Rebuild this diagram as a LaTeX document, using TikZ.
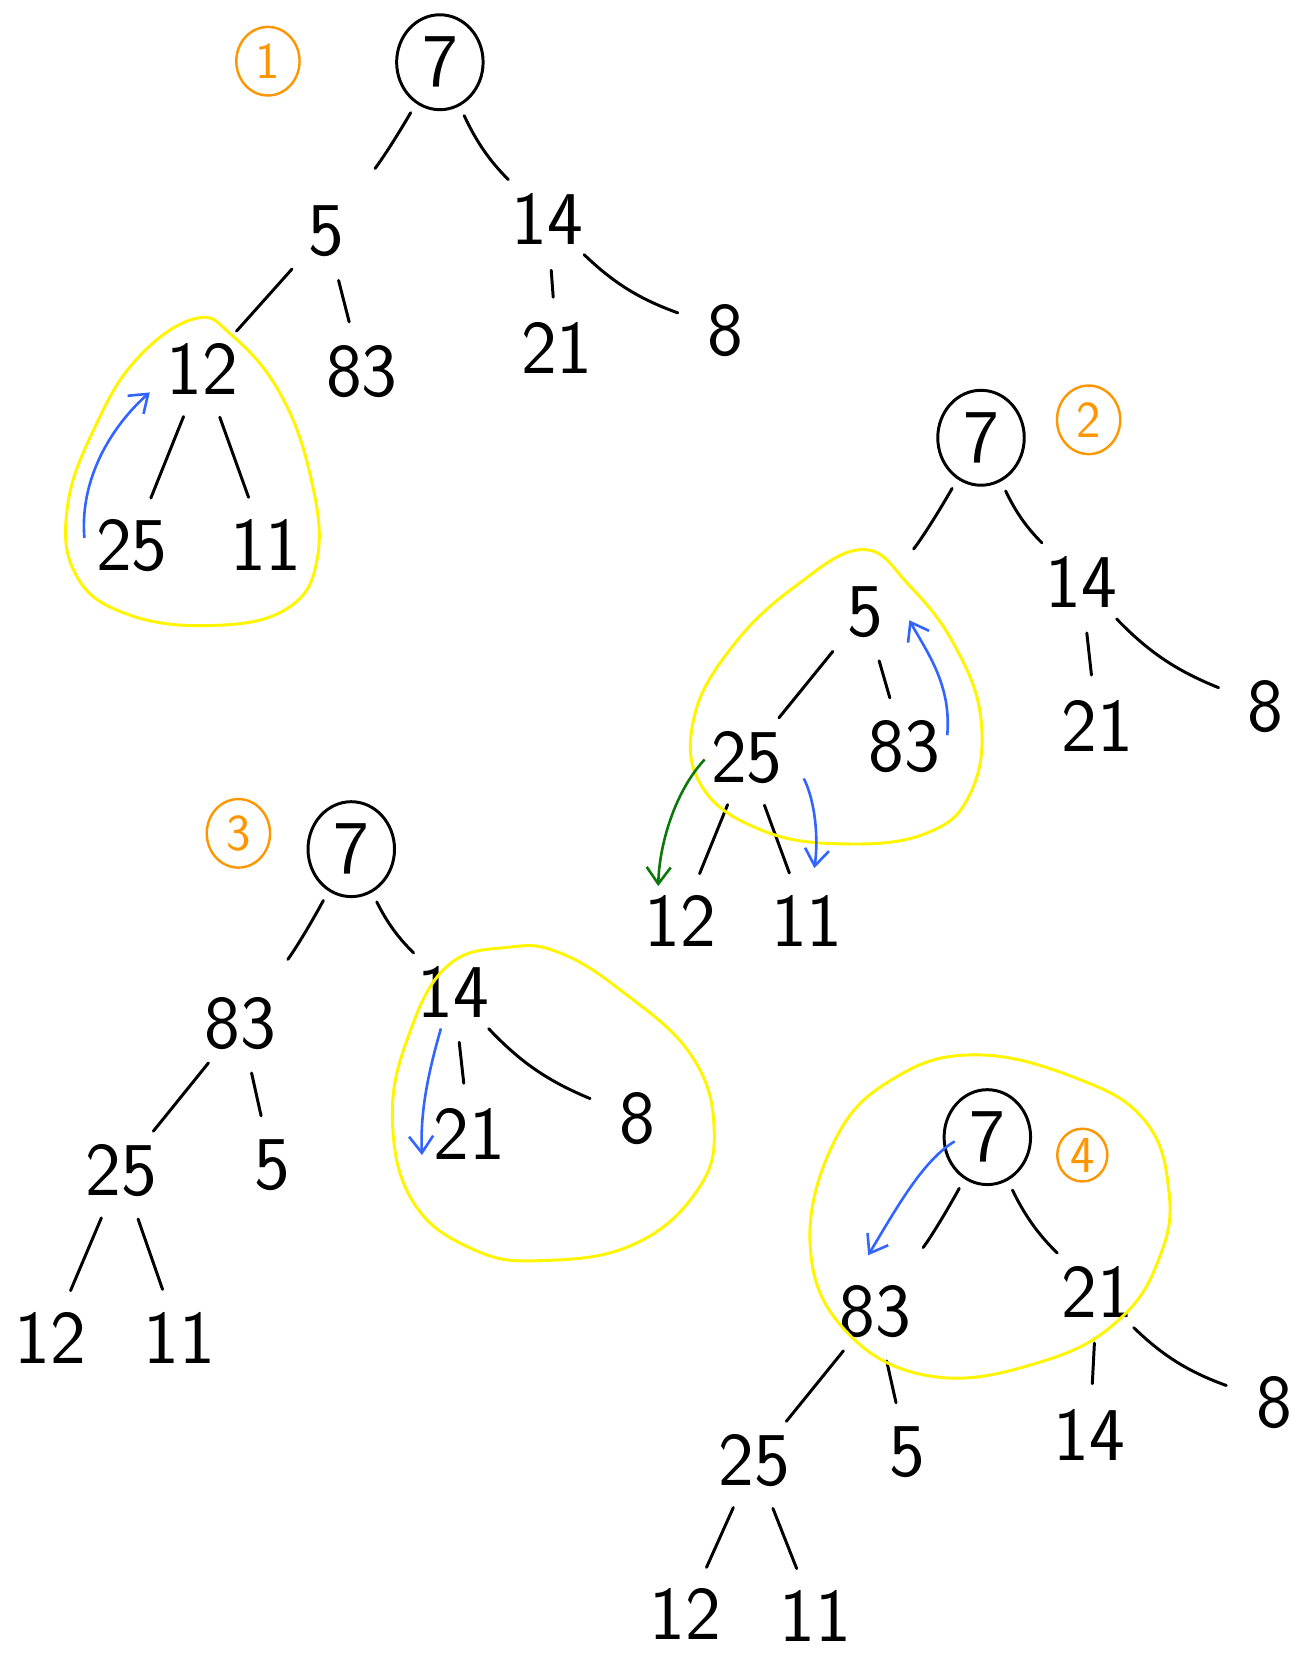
\documentclass[tikz,border=0pt]{standalone}
\usetikzlibrary{arrows.meta,calc,shapes.geometric}
\definecolor{hlyellow}{RGB}{255,245,0}
\definecolor{stageorange}{RGB}{255,150,0}
\definecolor{arrblue}{RGB}{50,100,255}
\definecolor{arrgreen}{RGB}{10,120,10}
\begin{document}
\begin{tikzpicture}[x=0.02cm,y=-0.02cm,
  numtext/.style={font=\fontsize{41}{45}\selectfont\sffamily, inner sep=0pt},
  num/.style={circle, minimum size=1.6cm, inner sep=0pt, label={[numtext]center:#1}},
  root/.style={draw, ellipse, line width=1.6pt, minimum width=1.64cm, minimum height=1.8cm, inner sep=0pt, label={[numtext]center:7}},
  stage/.style={draw=stageorange, text=stageorange, ellipse, line width=1.3pt, minimum width=1.2cm, minimum height=1.3cm, inner sep=0pt, font=\fontsize{28}{30}\selectfont\sffamily},
  ed/.style={line width=1.6pt, line cap=round, shorten <=0.16cm, shorten >=0.16cm},
  edl/.style={ed, shorten <=0.2cm, shorten >=0.7cm},
  edr/.style={ed, shorten <=0.2cm, shorten >=0.25cm},
  loop/.style={draw=hlyellow, line width=1.6pt},
  bluearr/.style={draw=arrblue, line width=1.4pt, -{Straight Barb[length=9pt,width=13pt,line width=1.4pt]}},
  greenarr/.style={draw=arrgreen, line width=1.4pt, -{Straight Barb[length=9pt,width=13pt,line width=1.4pt]}}
]
\useasboundingbox (0,0) rectangle (1233,1568);

% ================= Tree 1 =================
\node[stage] (s1) at (254,58) {1};
\node[root] (t1r) at (417,59) {};
\node[num=5]  (t1a) at (309,219) {};
\node[num=14] (t1b) at (519,208) {};
\node[num=12] (t1c) at (192,350) {};
\node[num=83] (t1d) at (343,352) {};
\node[num=21] (t1e) at (528,330) {};
\node[num=8]  (t1f) at (688,313) {};
\node[num=25] (t1g) at (125,517) {};
\node[num=11] (t1h) at (252,517) {};
\draw[edl] (t1r) to[bend left=4] (t1a);
\draw[edr] (t1r) to[bend right=10] (t1b);
\draw[ed] (t1a) -- (t1c);
\draw[ed] (t1a) -- (t1d);
\draw[ed] (t1b) -- (t1e);
\draw[ed] (t1b) to[bend right=12] (t1f);
\draw[ed] (t1c) -- (t1g);
\draw[ed] (t1c) -- (t1h);
\draw[loop] plot[smooth cycle, tension=0.7] coordinates {(185,302) (130,340) (90,405) (64,480) (72,545) (120,582) (200,593) (272,577) (301,528) (294,450) (265,372) (220,318)};
\draw[bluearr] ($(t1g)+(-45,-7)$) .. controls ($(t1g)+(-50,-67)$) and ($(t1c)+(-82,50)$) .. ($(t1c)+(-50,22)$);

% ================= Tree 2 =================
\node[stage] (s2) at (1032,398) {2};
\node[root] (t2r) at (930,415) {};
\node[num=5]  (t2a) at (820,580) {};
\node[num=14] (t2b) at (1025,552) {};
\node[num=25] (t2c) at (708,718) {};
\node[num=83] (t2d) at (857,708) {};
\node[num=21] (t2e) at (1040,688) {};
\node[num=8]  (t2f) at (1200,670) {};
\node[num=12] (t2g) at (645,873) {};
\node[num=11] (t2h) at (765,873) {};
\draw[edl] (t2r) to[bend left=4] (t2a);
\draw[edr] (t2r) to[bend right=10] (t2b);
\draw[ed] (t2a) -- (t2c);
\draw[ed] (t2a) -- (t2d);
\draw[ed] (t2b) -- (t2e);
\draw[ed] (t2b) to[bend right=12] (t2f);
\draw[ed] (t2c) -- (t2g);
\draw[ed] (t2c) -- (t2h);
\draw[loop] plot[smooth cycle, tension=0.7] coordinates {(818,521) (755,555) (695,612) (658,680) (665,745) (722,787) (800,800) (878,790) (920,752) (930,682) (905,612) (862,555)};
\draw[bluearr] ($(t2d)+(41,-11)$) .. controls ($(t2d)+(45,-58)$) and ($(t2a)+(60,40)$) .. ($(t2a)+(42,8)$);
\draw[bluearr] ($(t2c)+(54,20)$) .. controls ($(t2c)+(65,42)$) and ($(t2h)+(11,-78)$) .. ($(t2h)+(7,-50)$);
\draw[greenarr] ($(t2c)+(-40,2)$) .. controls ($(t2c)+(-68,32)$) and ($(t2g)+(-20,-73)$) .. ($(t2g)+(-21,-33)$);

% ================= Tree 3 =================
\node[stage] (s3) at (226,790) {3};
\node[root] (t3r) at (333,805) {};
\node[num=83] (t3a) at (228,970) {};
\node[num=14] (t3b) at (430,940) {};
\node[num=25] (t3c) at (115,1110) {};
\node[num=5]  (t3d) at (258,1105) {};
\node[num=21] (t3e) at (445,1075) {};
\node[num=8]  (t3f) at (604,1060) {};
\node[num=12] (t3g) at (48,1268) {};
\node[num=11] (t3h) at (170,1268) {};
\draw[edl] (t3r) to[bend left=4] (t3a);
\draw[edr] (t3r) to[bend right=10] (t3b);
\draw[ed] (t3a) -- (t3c);
\draw[ed] (t3a) -- (t3d);
\draw[ed] (t3b) -- (t3e);
\draw[ed] (t3b) to[bend right=12] (t3f);
\draw[ed] (t3c) -- (t3g);
\draw[ed] (t3c) -- (t3h);
\draw[loop] plot[smooth cycle, tension=0.7] coordinates {(482,898) (425,915) (388,980) (372,1060) (392,1140) (450,1185) (515,1195) (600,1180) (660,1130) (677,1070) (655,1000) (590,940) (530,903)};
\draw[bluearr] ($(t3b)+(-12,35)$) .. controls ($(t3b)+(-22,70)$) and ($(t3e)+(-47,-25)$) .. ($(t3e)+(-45,20)$);

% ================= Tree 4 =================
\node[stage, minimum width=0.95cm, minimum height=1.0cm] (s4) at (1026,1095) {4};
\node[root] (t4r) at (936,1078) {};
\node[num=83] (t4a) at (830,1243) {};
\node[num=21] (t4b) at (1040,1225) {};
\node[num=25] (t4c) at (715,1385) {};
\node[num=5]  (t4d) at (860,1377) {};
\node[num=14] (t4e) at (1033,1360) {};
\node[num=8]  (t4f) at (1208,1330) {};
\node[num=12] (t4g) at (650,1530) {};
\node[num=11] (t4h) at (773,1532) {};
\draw[edl] (t4r) to[bend left=4] (t4a);
\draw[edr] (t4r) to[bend right=10] (t4b);
\draw[ed] (t4a) -- (t4c);
\draw[ed] (t4a) -- (t4d);
\draw[ed] (t4b) -- (t4e);
\draw[ed] (t4b) to[bend right=12] (t4f);
\draw[ed] (t4c) -- (t4g);
\draw[ed] (t4c) -- (t4h);
\draw[loop] plot[smooth cycle, tension=0.7] coordinates {(925,1000) (848,1022) (792,1080) (768,1180) (802,1262) (885,1305) (990,1290) (1062,1250) (1100,1190) (1108,1128) (1085,1062) (1020,1022)};
\draw[bluearr] ($(t4r)+(-31,4)$) .. controls ($(t4r)+(-61,22)$) and ($(t4a)+(20,-98)$) .. ($(t4a)+(-7,-53)$);

\end{tikzpicture}
\end{document}
